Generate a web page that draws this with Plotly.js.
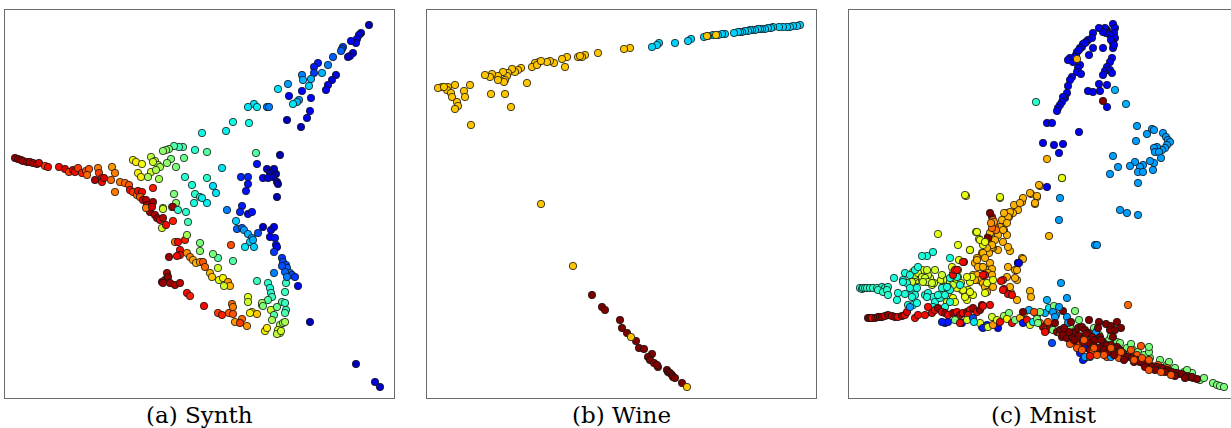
<!DOCTYPE html>
<html>
<head>
<meta charset="utf-8">
<script src="https://cdn.plot.ly/plotly-3.0.1.min.js"></script>
<style>
html,body{margin:0;padding:0;overflow:hidden;background:#fff;}
#chart{width:1240px;height:428px;}
</style>
</head>
<body>
<div id="chart"></div>
<script>
// Panel titles
const panelTitles = ["(a) Synth", "(b) Wine", "(c) Mnist"];

// Embedding coordinates [x, y, colour value]; y grows downward (axis reversed)
const synthPoints = [
[364,15,0.05],[356,23,0.1],[354,25,0.1],[352,29,0.12],[351,33,0.1],[346,31,0.12],
[338,37,0.2],[337,39,0.2],[336,41,0.22],[348,43,0.08],[345,46,0.08],[343,47,0.06],
[328,47,0.22],[323,55,0.25],[313,53,0.15],[309,57,0.15],[309,63,0.18],[317,63,0.3],
[331,65,0.08],[327,70,0.08],[323,75,0.1],[321,80,0.1],[297,65,0.25],[298,70,0.3],
[306,69,0.3],[304,76,0.33],[297,81,0.12],[283,74,0.28],[273,79,0.35],[284,86,0.12],
[294,90,0.28],[292,92,0.3],[288,94,0.35],[306,88,0.12],[305,101,0.1],[302,108,0.1],
[282,110,0.05],[296,117,0.05],[249,94,0.35],[243,97,0.35],[252,97,0.36],[262,97,0.25],
[264,97,0.25],[244,113,0.37],[228,112,0.37],[221,121,0.36],[197,123,0.37],
[275,145,0.04],[251,143,0.45],[252,154,0.14],[262,159,0.05],[265,163,0.04],[269,159,0.05],
[271,164,0.04],[258,168,0.1],[263,168,0.08],[268,167,0.05],[272,172,0.04],[273,174,0.03],
[272,187,0.04],[236,167,0.16],[243,167,0.16],[243,174,0.14],[241,181,0.14],[217,158,0.35],
[202,142,0.45],[190,140,0.4],[178,137,0.45],[174,137,0.42],[169,136,0.45],[164,139,0.5],
[161,140,0.52],[158,141,0.52],[179,148,0.48],[171,157,0.5],[166,149,0.5],[162,153,0.52],
[180,167,0.4],[187,175,0.38],[190,184,0.4],[195,187,0.38],[202,193,0.36],[189,193,0.38],
[197,188,0.36],[202,168,0.4],[208,176,0.34],[211,183,0.35],
[128,150,0.65],[131,152,0.66],[137,154,0.64],[133,163,0.65],[136,167,0.66],[146,162,0.6],
[146,147,0.58],[150,151,0.58],[153,155,0.56],[148,152,0.6],[155,157,0.55],[151,160,0.56],
[143,167,0.55],[154,169,0.55],[148,178,0.88],[169,184,0.5],[171,193,0.52],[167,197,0.48],
[168,197,0.97],[173,200,0.4],[181,202,0.4],[183,212,0.43],[158,198,0.58],[158,199,0.6],[157,218,0.6],
[10,148,0.98],[13,149,0.99],[16,150,0.98],[18,151,0.97],[22,152,0.98],[25,152,0.96],
[28,153,0.97],[32,154,0.95],[34,153,0.93],[40,156,0.85],[43,157,0.9],[54,157,0.9],
[60,159,0.92],[64,162,0.85],[68,160,0.93],[70,162,0.9],[73,158,0.85],[77,163,0.88],
[81,161,0.83],[84,159,0.82],[82,165,0.8],[93,158,0.78],[94,163,0.85],[97,168,0.9],
[90,170,0.96],[97,172,0.9],[99,168,0.92],[107,157,0.75],[110,163,0.78],[106,170,0.8],
[110,182,0.78],[115,172,0.78],[120,173,0.8],[124,175,0.82],[125,180,0.9],[128,182,0.85],
[132,185,0.8],[133,181,0.9],[137,182,0.9],[135,187,0.82],[138,190,0.92],[141,190,0.95],
[142,195,0.97],[143,198,0.9],[145,202,0.98],[148,192,0.97],[150,205,0.95],[152,208,0.98],
[155,210,0.92],[158,208,0.96],[161,215,0.9],[168,211,0.88],[141,198,0.78],[147,197,0.93],
[170,232,0.78],[173,232,0.9],[180,230,0.88],[175,240,0.9],[175,245,0.9],[172,246,0.9],
[164,247,0.98],[182,243,0.76],[185,247,0.78],[188,250,0.74],[191,253,0.72],[195,252,0.75],
[198,252,0.82],[200,257,0.8],[205,263,0.72],[207,267,0.7],[213,258,0.6],[213,248,0.45],
[208,244,0.5],[195,233,0.5],[195,241,0.52],[182,225,0.55],[214,270,0.62],[218,268,0.65],
[223,272,0.75],[225,276,0.72],[219,276,0.6],[226,235,0.83],[228,251,0.45],
[157,272,0.99],[160,270,0.98],[162,263,0.97],[163,267,0.99],[158,273,0.98],[165,273,0.97],
[170,275,0.96],[175,273,0.95],[182,283,0.9],[185,286,0.88],[199,296,0.9],
[213,303,0.85],[217,305,0.88],[224,303,0.82],[228,304,0.82],[227,294,0.8],[228,297,0.78],
[230,312,0.75],[237,309,0.8],[235,313,0.85],[242,316,0.75],
[252,271,0.42],[243,287,0.62],[243,292,0.6],[247,302,0.68],[245,303,0.65],[252,304,0.7],
[260,321,0.65],[262,318,0.66],[257,295,0.62],[263,273,0.4],[265,278,0.38],[266,283,0.4],
[267,287,0.42],[263,290,0.45],[257,293,0.55],[258,296,0.5],[266,300,0.6],[269,305,0.45],
[267,310,0.55],[277,292,0.45],[280,293,0.42],[281,300,0.42],[280,303,0.44],[272,297,0.48],
[275,315,0.55],[278,313,0.56],[280,312,0.55],[273,320,0.6],[275,323,0.62],[272,324,0.58],
[276,321,0.6],[281,273,0.42],[280,282,0.42],
[277,248,0.18],[278,252,0.2],[281,255,0.2],[282,258,0.22],[285,263,0.25],[287,265,0.2],
[290,267,0.18],[277,256,0.2],[280,262,0.22],[282,267,0.25],[293,276,0.1],[269,263,0.25],
[305,312,0.06],[351,354,0.06],[370,372,0.08],[375,377,0.06],
[222,200,0.25],[237,196,0.15],[235,202,0.16],[243,204,0.12],[247,202,0.14],[231,211,0.33],
[232,219,0.22],[237,218,0.22],[239,220,0.28],[243,224,0.3],[247,228,0.28],[245,232,0.33],
[248,230,0.3],[240,237,0.35],[249,237,0.33],[253,223,0.2],[258,217,0.06],[266,220,0.12],
[269,217,0.08],[265,227,0.12],[270,228,0.14],[271,235,0.14],[272,237,0.12],[269,242,0.18]
];

const winePoints = [
[373,15,0.33],[370,16,0.33],[366,16,0.33],[363,17,0.33],[360,17,0.33],[356,17,0.33],
[352,17,0.33],[346,17,0.33],[344,18,0.33],[341,18,0.33],[338,19,0.33],[335,19,0.33],
[333,19,0.33],[331,19,0.33],[328,20,0.33],[325,20,0.33],[323,20,0.33],[321,21,0.33],
[318,21,0.33],[315,22,0.33],[313,22,0.33],[311,22,0.33],[307,23,0.33],[298,24,0.33],
[295,24,0.33],[291,25,0.33],[286,25,0.33],[281,26,0.33],[277,27,0.33],[264,29,0.33],
[261,31,0.33],[248,33,0.33],[232,33,0.33],[230,35,0.33],[225,37,0.33],
[289,25,0.7],[280,26,0.7],[203,38,0.7],[197,39,0.7],[171,43,0.7],[158,45,0.7],
[155,47,0.7],[151,47,0.7],[153,46,0.7],[140,47,0.7],[135,49,0.7],[138,57,0.7],
[127,53,0.7],[123,51,0.7],[120,52,0.7],[112,52,0.7],[108,53,0.7],[105,57,0.7],
[110,55,0.7],[114,51,0.7],[100,73,0.7],[94,58,0.7],[91,60,0.7],[88,62,0.7],
[85,59,0.7],[81,63,0.7],[80,66,0.7],[78,70,0.7],[77,72,0.7],[76,62,0.7],
[71,66,0.7],[71,70,0.7],[65,64,0.7],[63,67,0.7],[58,65,0.7],[64,84,0.7],
[78,84,0.7],[84,97,0.7],[43,75,0.7],[37,81,0.7],[38,87,0.7],[28,75,0.7],
[21,77,0.7],[20,80,0.7],[24,83,0.7],[25,87,0.7],[30,92,0.7],[31,96,0.7],
[28,99,0.7],[15,77,0.7],[11,78,0.7],[17,77,0.7],[44,115,0.7],[114,194,0.7],
[146,256,0.7],
[165,285,1],[175,297,1],[178,300,1],[193,310,1],[195,318,1],[200,323,1],
[209,331,1],[212,338,1],[217,339,1],[225,344,1],[221,347,1],[223,350,1],
[227,353,1],[231,357,1],[230,355,1],[240,360,1],[241,362,1],[243,363,1],
[245,365,1],[246,367,1],[248,368,1],[255,373,1],
[204,327,0.7],[260,377,0.7]
];

const mnistPoints = [
// upper loop (blue)
[264,14,0.1],[266,18,0.1],[265,23,0.1],[266,28,0.1],[264,33,0.1],[264,38,0.1],
[261,25,0.1],[258,20,0.1],[256,18,0.1],[257,23,0.1],[254,22,0.1],[250,18,0.1],
[244,23,0.1],[243,28,0.1],[239,30,0.1],[237,32,0.1],[234,34,0.1],[233,37,0.1],
[231,38,0.1],[228,42,0.1],[227,45,0.1],[221,48,0.1],[219,50,0.1],[224,52,0.1],
[231,55,0.1],[229,58,0.1],[228,62,0.1],[232,64,0.1],[223,67,0.1],[221,70,0.1],
[219,76,0.1],[218,83,0.1],[216,88,0.1],[214,87,0.1],[213,92,0.1],[211,95,0.1],
[209,98,0.1],[208,101,0.1],[240,45,0.1],[244,38,0.1],[254,38,0.1],[263,48,0.1],
[261,52,0.1],[258,57,0.1],[256,61,0.1],[254,65,0.1],[261,60,0.1],[263,63,0.1],
[250,74,0.1],[251,81,0.1],[258,75,0.1],[239,81,0.1],[244,82,0.1],[258,97,0.1],
[198,113,0.1],[203,113,0.1],[230,122,0.1],[194,133,0.1],[205,135,0.1],[214,134,0.1],
[210,143,0.1],[198,177,0.1],[236,33,0.1],[226,47,0.1],[230,40,0.1],[262,30,0.1],[265,35,0.1],
[228,49,0.72],[254,91,1],[187,92,0.4],[266,80,0.3],[277,94,0.3],
// right hook (azure)
[288,116,0.28],[287,131,0.28],[298,124,0.28],[303,119,0.28],[305,120,0.28],[314,123,0.28],
[317,127,0.28],[319,130,0.28],[321,132,0.28],[318,135,0.28],[316,138,0.28],[313,140,0.28],
[308,137,0.28],[305,138,0.28],[306,142,0.28],[310,142,0.28],[312,148,0.28],[305,153,0.28],
[304,160,0.28],[301,151,0.28],[294,155,0.28],[291,157,0.28],[289,162,0.28],[294,162,0.28],
[286,152,0.28],[281,156,0.28],[264,146,0.28],[269,157,0.28],[261,164,0.28],[289,173,0.28],
[271,200,0.28],[278,203,0.28],[289,205,0.28],[211,188,0.28],[210,210,0.28],[246,235,0.28],
[248,235,0.28],[212,273,0.28],[218,288,0.28],
[213,168,0.62],[198,149,0.72],[191,176,0.72],[188,187,0.72],[186,194,0.72],[182,184,0.72],
[200,226,0.72],[279,295,0.8],
// orange arm
[190,175,0.72],[186,193,0.72],[188,186,0.72],[181,183,0.72],[173,192,0.72],[169,200,0.72],
[165,195,0.72],[164,203,0.72],[160,207,0.72],[158,203,0.72],[156,213,0.72],[155,220,0.72],
[158,225,0.72],[154,232,0.72],[149,240,0.72],[144,238,0.72],[146,228,0.72],[141,230,0.72],
[161,241,0.72],[174,188,0.72],[171,193,0.72],[161,202,0.72],[159,207,0.72],[155,203,0.72],
[153,210,0.72],[151,217,0.72],[158,213,0.72],[154,220,0.72],[149,225,0.72],[146,230,0.72],
[143,237,0.72],[140,243,0.72],[139,227,0.72],[133,243,0.72],[128,248,0.72],[126,253,0.72],
[133,257,0.72],[138,260,0.72],[141,253,0.72],[143,259,0.72],[133,267,0.72],[129,270,0.72],
[124,265,0.72],[133,272,0.72],[159,237,0.72],[159,257,0.72],[166,260,0.72],[169,253,0.72],
[173,248,0.72],[168,270,0.72],[158,267,0.72],[162,283,0.72],[168,290,0.72],[181,281,0.72],
[182,287,0.72],[141,223,0.72],[143,235,0.72],[138,238,0.72],[134,243,0.72],[136,248,0.72],
[128,250,0.72],[129,257,0.72],[134,257,0.72],[139,263,0.72],[143,265,0.72],[128,265,0.72],
[131,270,0.72],[126,270,0.72],[134,273,0.72],[136,277,0.72],[144,277,0.72],[138,282,0.72],
[161,277,0.72],[166,268,0.72],[168,260,0.72],[174,249,0.72],
[143,207,0.95],[144,210,0.8],[145,214,0.85],[146,217,0.8],[147,220,0.78],[143,218,0.8],
[141,203,1],[139,228,1],[145,212,0.75],[142,213,0.76],
// yellow
[213,168,0.63],[151,188,0.63],[117,186,0.63],[89,224,0.63],[127,222,0.63],[130,229,0.63],
[134,235,0.63],[121,240,0.63],[109,235,0.63],[110,250,0.63],[103,257,0.63],[104,263,0.63],
[109,267,0.63],[106,272,0.63],[112,273,0.63],[113,280,0.63],[119,280,0.63],[121,272,0.63],
[123,267,0.63],[124,285,0.63],[116,285,0.63],[118,290,0.63],[99,283,0.63],[104,288,0.63],
[106,292,0.63],[98,292,0.63],[93,283,0.63],[94,277,0.63],[92,270,0.63],[103,277,0.63],
[136,283,0.63],[138,273,0.63],[109,260,0.63],[116,287,0.63],[121,282,0.63],[118,267,0.63],
[121,240,0.63],[128,222,0.63],[131,230,0.63],[136,232,0.63],[116,185,0.63],[151,187,0.63],
[144,270,0.63],[114,280,0.63],[108,278,0.63],
// olive / yellow-green
[64,262,0.6],[68,263,0.6],[71,265,0.6],[74,262,0.6],[69,270,0.6],[66,267,0.6],
[73,270,0.6],[78,272,0.6],[83,275,0.6],[85,273,0.6],[81,268,0.6],[79,265,0.6],
[73,260,0.6],[66,277,0.6],[63,272,0.6],[66,265,0.6],[69,263,0.6],[73,267,0.6],
[76,268,0.6],[79,272,0.6],[83,273,0.6],[74,272,0.6],[78,260,0.6],[86,260,0.6],
[93,265,0.6],[98,270,0.6],[101,272,0.6],[104,275,0.6],
// cyan
[78,246,0.38],[73,246,0.38],[84,242,0.38],[101,248,0.38],[45,268,0.38],[54,270,0.38],
[56,263,0.38],[58,273,0.38],[63,280,0.38],[68,278,0.38],[66,285,0.38],[56,284,0.38],
[49,283,0.38],[48,290,0.38],[63,287,0.38],[59,295,0.38],[64,295,0.38],[68,293,0.38],
[76,285,0.38],[79,283,0.38],[84,287,0.38],[86,292,0.38],[84,297,0.38],[91,288,0.38],
[96,285,0.38],[93,278,0.38],[99,277,0.38],[101,292,0.38],[96,297,0.38],[54,272,0.38],
[61,265,0.38],[66,260,0.38],[69,257,0.38],[61,278,0.38],[78,287,0.38],[89,285,0.38],
[101,280,0.38],[98,277,0.38],[101,268,0.38],[108,267,0.38],[111,275,0.38],
[11,278,0.4],[13,279,0.4],[14,278,0.4],[16,278,0.4],[18,278,0.4],[21,278,0.4],
[24,278,0.4],[28,278,0.4],[33,277,0.4],[36,278,0.4],[39,277,0.4],[29,280,0.4],
[34,282,0.4],[38,280,0.4],[39,285,0.4],
// red tail
[19,308,0.97],[21,308,0.98],[23,308,0.9],[26,308,0.98],[29,307,0.97],[31,307,0.96],
[33,307,0.99],[36,306,0.92],[39,305,0.98],[43,306,0.95],[46,307,0.97],[49,307,0.9],
[53,306,0.98],[56,305,0.9],[58,302,0.92],[66,308,0.9],[69,305,0.9],[76,305,0.9],
[79,297,0.9],[83,303,0.92],[86,300,0.9],[89,298,0.98],[93,302,0.9],[96,303,0.97],
[99,305,0.9],[104,303,0.98],[108,302,0.9],[111,305,0.97],[114,303,0.9],[118,302,0.98],
[121,300,0.9],[124,298,0.97],[128,302,0.9],[131,300,0.98],[133,295,0.98],[119,305,0.9],
[115,252,0.9],[104,265,0.9],[106,260,0.9],[136,265,0.9],[154,270,0.9],[159,284,0.9],
[114,252,0.9],[108,260,0.9],[134,265,0.9],[152,271,0.9],[155,279,0.9],[163,285,0.9],
[141,295,0.9],[134,296,0.9],
[96,313,0.15],[99,312,0.15],[113,313,0.12],[133,317,0.1],[138,315,0.15],[149,318,0.12],
[169,253,0.12],[203,333,0.2],[231,343,0.15],[236,348,0.12],[234,350,0.15],[170,253,0.1],
[61,297,0.28],[93,312,0.15],
// middle band
[106,310,0.5],[111,313,0.9],[118,310,0.6],[124,308,0.2],[131,313,0.62],[125,312,0.35],
[143,307,0.6],[155,306,0.55],[160,303,0.5],[175,303,0.7],[180,300,0.3],[188,305,0.55],
[196,303,0.3],[200,298,0.35],[205,296,0.5],[214,301,1],[198,290,0.3],[207,305,0.3],
[134,318,0.15],[139,317,0.6],[144,315,0.75],[148,310,0.62],[151,312,0.9],[158,309,0.65],
[163,313,0.9],[166,310,0.5],[171,308,0.72],[174,313,0.15],[178,310,0.9],[181,315,0.62],
[184,312,0.35],[188,309,0.5],[191,313,0.8],[194,317,0.98],[198,320,0.82],[201,317,0.98],
[204,320,0.5],[208,322,0.98],[211,323,0.82],[213,327,0.98],[216,325,1],[221,327,0.5],
[224,330,0.82],[228,333,0.98],[231,335,0.82],[234,332,0.98],[238,338,0.15],[241,340,0.98],
[244,342,0.82],
// lower band
[226,301,0.5],[191,302,0.5],[189,313,0.5],[221,316,0.5],[241,323,0.5],[268,332,0.5],
[271,333,0.5],[278,338,0.5],[284,340,0.5],[289,342,0.5],[301,348,0.5],[311,350,0.5],
[318,355,0.5],[326,358,0.5],[343,363,0.5],[351,370,0.5],[364,373,0.5],[368,375,0.5],
[371,376,0.5],[375,377,0.5],[250,325,0.5],[260,330,0.5],[295,345,0.5],[335,362,0.5],
[230,310,0.5],[245,318,0.5],[262,326,0.5],[282,334,0.5],[300,342,0.5],[320,352,0.5],
[338,360,0.5],[355,368,0.5],[300,337,0.5],
[240,310,1],[250,312,1],[257,314,1],[262,316,1],[268,312,1],[272,318,1],
[292,336,0.82],[185,302,0.82],[199,312,0.82],[221,334,0.82],[228,338,0.82],[248,345,0.82],
[258,347,0.82],[264,343,0.82],[278,345,0.82],[288,345,0.82],[298,352,0.82],[309,355,0.82],
[318,358,0.82],[326,363,0.82],[336,366,0.82],[344,368,0.82],[233,340,0.82],[270,348,0.82],
[303,356,0.82],[330,364,0.82],[340,367,0.82],
[210,297,0.28],[204,302,0.28],[206,307,0.28],[218,307,0.28],[219,313,0.28],[236,347,0.28],
[241,347,0.28],[254,340,0.28],[247,322,0.28],[262,347,0.28],
[154,280,0.9],[196,322,0.9],[241,346,0.9],
[174,302,1],[206,313,1],[211,320,1],[214,325,1],[218,328,1],[223,327,1],[226,322,1],
[229,318,1],[233,317,1],[236,320,1],[239,323,1],[243,327,1],[246,330,1],[249,318,1],
[251,327,1],[254,332,1],[258,335,1],[261,320,1],[266,320,1],[264,327,1],[268,337,1],
[271,340,1],[274,343,1],[278,347,1],[283,348,1],[288,350,1],[291,352,1],[294,353,1],
[299,355,1],[303,357,1],[308,357,1],[313,358,1],[318,360,1],[323,362,1],[328,363,1],
[333,364,1],[338,366,1],[343,367,1],[348,369,1],
[220,322,1],[225,330,1],[230,326,1],[235,328,1],[240,333,1],[245,336,1],[250,338,1],
[255,340,1],[260,342,1],[265,345,1],[275,350,1],[285,352,1],[296,357,1],[306,360,1],
[316,362,1],[326,366,1],[336,368,1],[215,318,1],[222,312,1],[237,324,1],[252,330,1],[262,335,1],
[235,330,0.82],[245,338,0.82],[255,345,0.82],[262,338,0.82],[272,342,0.82],[282,340,0.82],
[285,350,0.82],[293,348,0.82],[300,360,0.82],[312,362,0.82],[322,365,0.82],[300,350,0.82]
];

// matplotlib "jet"
const jet = [
[0,'rgb(0,0,128)'],[0.11,'rgb(0,0,255)'],[0.125,'rgb(0,0,255)'],[0.34,'rgb(0,219,255)'],
[0.35,'rgb(0,230,247)'],[0.375,'rgb(21,255,226)'],[0.64,'rgb(239,255,8)'],[0.65,'rgb(247,245,0)'],
[0.66,'rgb(255,236,0)'],[0.89,'rgb(255,19,0)'],[0.91,'rgb(232,0,0)'],[1,'rgb(128,0,0)']
];

const W = 1240, H = 428;
const panelLeft = [5, 427, 849];
const panelW = 389, panelTop = 10, panelH = 388;
const datasets = [synthPoints, winePoints, mnistPoints];

const traces = [];
const layout = {
  width: W, height: H,
  margin: {l:0, r:0, t:0, b:0},
  paper_bgcolor: '#fff', plot_bgcolor: '#fff',
  showlegend: false,
  annotations: []
};
datasets.forEach((pts, i) => {
  const s = i === 0 ? '' : String(i + 1);
  traces.push({
    type: 'scatter', mode: 'markers',
    x: pts.map(p => p[0]), y: pts.map(p => p[1]),
    xaxis: 'x' + s, yaxis: 'y' + s,
    hoverinfo: 'skip',
    marker: {
      size: 7.4, color: pts.map(p => p[2]), colorscale: jet, cmin: 0, cmax: 1,
      showscale: false, line: {color: '#111', width: 0.8}
    }
  });
  const ax = {
    showline: true, mirror: true, linecolor: '#6a6a6a', linewidth: 1.3,
    showticklabels: false, ticks: '', showgrid: false, zeroline: false, fixedrange: true
  };
  layout['xaxis' + s] = Object.assign({}, ax, {
    domain: [panelLeft[i] / W, (panelLeft[i] + panelW) / W],
    range: [0, panelW], anchor: 'y' + s
  });
  layout['yaxis' + s] = Object.assign({}, ax, {
    domain: [(H - panelTop - panelH) / H, (H - panelTop) / H],
    range: [panelH, 0], anchor: 'x' + s
  });
  layout.annotations.push({
    text: panelTitles[i], xref: 'paper', yref: 'paper',
    x: (panelLeft[i] + panelW / 2) / W, y: (H - 415) / H,
    xanchor: 'center', yanchor: 'middle', showarrow: false,
    font: {family: 'DejaVu Serif', size: 23, color: '#000'}
  });
});

Plotly.newPlot('chart', traces, layout, {staticPlot: true, displayModeBar: false});
</script>
</body>
</html>
